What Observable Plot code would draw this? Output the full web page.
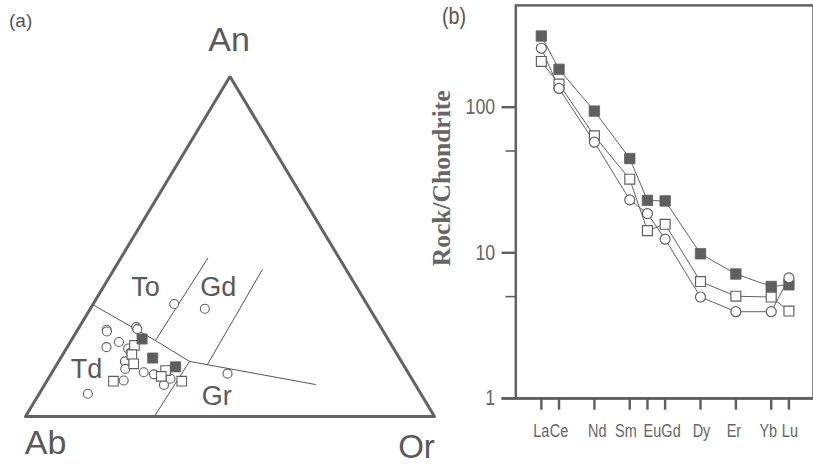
<!DOCTYPE html>
<html><head><meta charset="utf-8">
<script src="https://cdn.jsdelivr.net/npm/d3@7"></script>
<script src="https://cdn.jsdelivr.net/npm/@observablehq/plot@0.6"></script>
<style>
html,body{margin:0;padding:0;background:#fff;overflow:hidden;}
#wrap{position:relative;width:813px;height:464px;overflow:hidden;background:#fff;}
#pa{position:absolute;left:0;top:0;}
#pb{position:absolute;left:420px;top:0;}
.lab{position:absolute;color:#555;line-height:1;white-space:nowrap;font-family:'Liberation Sans',Arial,sans-serif;}
</style></head><body>
<div id="wrap">
<div id="pa"></div>
<div id="pb"></div>
<div class="lab" style="left:9px;top:11px;font-size:19px;">(a)</div>
<div class="lab" style="left:442px;top:4px;font-size:24px;transform:scaleX(0.82);transform-origin:left top;">(b)</div>
</div>
<script>
// ---------- Panel (a): An-Ab-Or ternary (values in %, Ab = 100 - An - Or) ----------
const vertexNames = ["An", "Ab", "Or"];
const vertexAn = [100, 0, 0];
const vertexOr = [0, 0, 100];

const circleAn = [33.1, 31.7, 25.5, 25.0, 26.3, 25.7, 21.9, 20.4, 20.0, 18.8, 16.2, 14.0, 13.0, 12.4, 10.6, 9.3, 11.1, 6.7, 12.6];
const circleOr = [19.8, 28.0, 7.1, 7.4, 13.9, 14.5, 11.9, 9.6, 15.1, 16.3, 16.2, 17.4, 22.4, 25.2, 18.7, 29.2, 29.9, 11.9, 43.1];

const openSqAn = [20.9, 18.2, 15.5, 10.4, 13.5, 11.8, 10.4];
const openSqOr = [16.2, 16.9, 18.7, 16.3, 27.5, 27.3, 33.0];

const filledSqAn = [22.8, 17.2, 14.6];
const filledSqOr = [17.1, 22.5, 29.4];

const boundaryId = [1, 1, 1, 1, 2, 2, 3, 3, 4, 4];
const boundaryAn = [32.9, 22.35, 16.2, 9.4, 0, 16.2, 22.35, 46.5, 15.3, 43.2];
const boundaryOr = [0, 20.6, 32.0, 66.2, 31.5, 32.0, 20.6, 21.3, 36.85, 36.3];

const fieldNames = ["To", "Gd", "Td", "Gr"];
const fieldAn = [37.9, 37.9, 13.8, 5.9];
const fieldOr = [10.4, 28.2, 8.0, 43.8];

// ---------- Panel (b): chondrite-normalised REE ----------
const reeSeries = ["La","Ce","Pr","Nd","Pm","Sm","Eu","Gd","Tb","Dy","Ho","Er","Tm","Yb","Lu"];
const reeShown = ["La","Ce","Nd","Sm","Eu","Gd","Dy","Er","Yb","Lu"];
const filledValues = [308, 182, 94, 44.4, 22.9, 22.7, 9.85, 7.15, 5.87, 6.03];
const openSqValues = [206, 144, 63.5, 32, 14.2, 15.7, 6.35, 5.03, 4.97, 3.98];
const circleValues = [254, 134.5, 57.5, 23.1, 18.6, 12.4, 4.97, 3.94, 3.94, 6.72];
const yMajor = [1, 10, 100];
const yMinor = [5, 50];

// label style: small horizontal nudges of the element labels, as in the source figure
const labelNudge = { Nd: 3, Sm: -4, Eu: 5, Gd: 6, Dy: 1, Er: -2, Yb: -3, Lu: 1 };

// ---------- helpers ----------
const S3 = Math.sqrt(3) / 2;
function tern(an, or) { return { x: (or + an / 2) / 100, y: (an / 100) * S3 }; }
function ternTable(anArr, orArr, extra) {
  return anArr.map((a, i) => Object.assign(tern(a, orArr[i]), extra ? extra(i) : {}));
}

const gray = "#5f5f5f";
const textGray = "#5a5a5a";
const sans = "Liberation Sans, Arial, sans-serif";

const vertices = ternTable(vertexAn, vertexOr, i => ({ name: vertexNames[i] }));
const triPath = [1, 2, 0, 1, 2].map(i => vertices[i]);
const boundaries = ternTable(boundaryAn, boundaryOr, i => ({ id: boundaryId[i] }));
const circles = ternTable(circleAn, circleOr);
const openSq = ternTable(openSqAn, openSqOr);
const filledSq = ternTable(filledSqAn, filledSqOr);
const fields = ternTable(fieldAn, fieldOr, i => ({ name: fieldNames[i] }));

const vlabel = (name, dx, dy, fs) => Plot.text(vertices.filter(d => d.name === name), {
  x: "x", y: "y", text: "name", dx, dy, fontSize: fs, fontFamily: sans, fill: textGray
});

const plotA = Plot.plot({
  width: 440, height: 464, margin: 0,
  style: { background: "transparent", overflow: "visible" },
  x: { domain: [0, 1], range: [25, 434], axis: null },
  y: { domain: [0, S3], range: [416, 76], axis: null },
  marks: [
    Plot.line(boundaries, { x: "x", y: "y", z: "id", stroke: "#555", strokeWidth: 1 }),
    Plot.line(triPath, { x: "x", y: "y", stroke: "#636363", strokeWidth: 3, strokeLinejoin: "miter" }),
    Plot.dot(circles, { x: "x", y: "y", r: 4.5, symbol: "circle", stroke: gray, strokeWidth: 1.1, fill: "white" }),
    Plot.dot(openSq, { x: "x", y: "y", r: 5.4, symbol: "square", stroke: gray, strokeWidth: 1.1, fill: "white" }),
    Plot.dot(filledSq, { x: "x", y: "y", r: 5.7, symbol: "square", stroke: gray, strokeWidth: 0.8, fill: gray }),
    Plot.text(fields, { x: "x", y: "y", text: "name", fontSize: 27, fontFamily: sans, fill: textGray }),
    vlabel("An", -1, -36, 34),
    vlabel("Ab", 20, 27, 34),
    vlabel("Or", -18, 31, 33)
  ]
});
document.getElementById("pa").appendChild(plotA);

const reeRows = [];
const series = [["filled", filledValues], ["open", openSqValues], ["circle", circleValues]];
for (const [s, vals] of series) reeShown.forEach((el, i) => reeRows.push({ series: s, el, v: vals[i] }));

const axisText = { fontFamily: sans, fill: "#666", label: null };

const plotB = Plot.plot({
  width: 400, height: 464,
  marginLeft: 97, marginTop: 5, marginBottom: 59, marginRight: 0,
  style: { background: "transparent", overflow: "visible" },
  x: { type: "point", domain: reeSeries, range: [117.3, 380], padding: 0 },
  y: { type: "log", domain: [1, 500], range: [405, 5] },
  marks: [
    Plot.frame({ stroke: "#606060", strokeWidth: 2.5 }),
    Plot.ruleY(yMajor.slice(0, 1), { stroke: "#606060", strokeWidth: 3, insetLeft: -14 }),
    Plot.axisY({ ticks: yMajor, tickSize: 14, tickPadding: 7, tickFormat: d => String(d),
      fontSize: 22, stroke: "#606060", strokeWidth: 2.5, ...axisText }),
    Plot.axisY({ ticks: yMinor, tickSize: 10, tickFormat: () => "", label: null,
      stroke: "#606060", strokeWidth: 1.6 }),
    Plot.axisX({ ticks: reeShown, tickSize: 12, tickFormat: () => "", label: null,
      stroke: "#606060", strokeWidth: 2.5 }),
    ...reeShown.map(el => Plot.axisX({ ticks: [el], tickSize: 0, tickPadding: 26, dx: labelNudge[el] || 0,
      fontSize: 18, ...axisText })),
    Plot.line(reeRows, { x: "el", y: "v", z: "series", stroke: "#606060", strokeWidth: 1 }),
    Plot.dot(reeRows.filter(d => d.series === "open"), { x: "el", y: "v", r: 5.7, symbol: "square", stroke: gray, strokeWidth: 1.2, fill: "white" }),
    Plot.dot(reeRows.filter(d => d.series === "filled"), { x: "el", y: "v", r: 6, symbol: "square", stroke: gray, strokeWidth: 0.8, fill: gray }),
    Plot.dot(reeRows.filter(d => d.series === "circle"), { x: "el", y: "v", r: 5.1, symbol: "circle", stroke: gray, strokeWidth: 1.2, fill: "white" }),
    Plot.text(["Rock/Chondrite"], { frameAnchor: "left", rotate: -90, dx: -75, dy: -24, textAnchor: "middle",
      fontSize: 26, fontWeight: "bold", fontFamily: "Liberation Serif, Times New Roman, serif", fill: "#666" })
  ]
});
document.getElementById("pb").appendChild(plotB);

// narrow the sans tick labels of panel (b) (the source uses a condensed face)
plotB.querySelectorAll('g[aria-label$="tick label"] text').forEach(t => {
  const tr = t.getAttribute("transform");
  if (tr) t.setAttribute("transform", tr + " scale(0.82,1)");
  else {
    const x = +(t.getAttribute("x") || 0), y = +(t.getAttribute("y") || 0);
    t.setAttribute("transform", `translate(${x},${y}) scale(0.82,1) translate(${-x},${-y})`);
  }
});
</script>
</body></html>
